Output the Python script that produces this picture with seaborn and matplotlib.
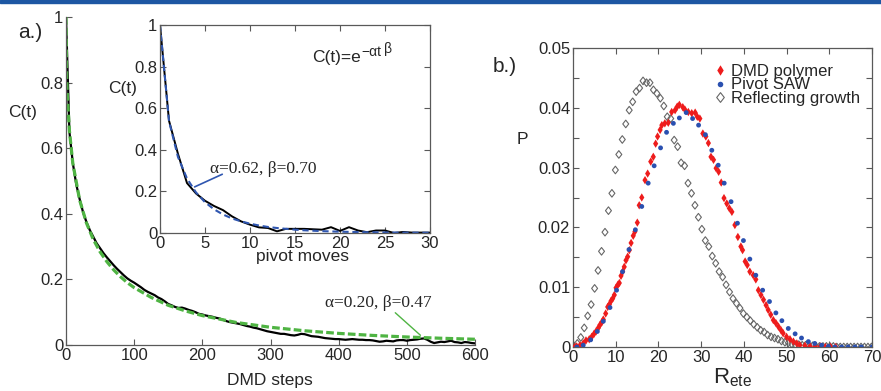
import numpy as np
import matplotlib
matplotlib.use("Agg")
import matplotlib.pyplot as plt
import seaborn as sns
from matplotlib.lines import Line2D
from matplotlib.patches import Rectangle
from matplotlib.path import Path

# ---------------- data ----------------
# panel a (main): autocorrelation vs DMD steps
main_t = np.arange(0, 601, 5)
main_black = [1.0, 0.65, 0.555, 0.49, 0.445, 0.405, 0.375, 0.35, 0.33, 0.31,
              0.295, 0.28, 0.267, 0.255, 0.243, 0.232, 0.222, 0.212, 0.203, 0.196,
              0.19, 0.183, 0.176, 0.168, 0.162, 0.157, 0.152, 0.145, 0.14, 0.133,
              0.125, 0.121, 0.116, 0.113, 0.114, 0.111, 0.107, 0.104, 0.1, 0.095,
              0.093, 0.09, 0.088, 0.086, 0.083, 0.081, 0.077, 0.073, 0.07, 0.068,
              0.066, 0.064, 0.061, 0.058, 0.056, 0.053, 0.051, 0.048, 0.045, 0.042,
              0.04, 0.038, 0.036, 0.034, 0.034, 0.032, 0.03, 0.029, 0.031, 0.034,
              0.033, 0.03, 0.027, 0.026, 0.025, 0.023, 0.021, 0.02, 0.019, 0.018,
              0.018, 0.017, 0.016, 0.017, 0.018, 0.017, 0.016, 0.016, 0.015, 0.015,
              0.014, 0.012, 0.01, 0.011, 0.013, 0.012, 0.011, 0.014, 0.015, 0.015,
              0.013, 0.015, 0.016, 0.017, 0.019, 0.02, 0.016, 0.01, 0.006, 0.008,
              0.01, 0.009, 0.011, 0.013, 0.009, 0.008, 0.006, 0.009, 0.008, 0.006,
              0.005]
fit_t = [0, 1, 2, 5, 10, 20, 30, 40, 50, 60, 70, 80, 90, 100, 125, 150, 175, 200,
         250, 300, 350, 400, 450, 500, 550, 600]
fit_main = [1.0, 0.82, 0.758, 0.653, 0.554, 0.442, 0.372, 0.322, 0.284, 0.254, 0.229,
            0.208, 0.19, 0.175, 0.145, 0.121, 0.104, 0.0896, 0.0686, 0.054, 0.0434,
            0.0354, 0.0292, 0.0244, 0.0206, 0.0175]

# panel a (inset): autocorrelation vs pivot moves
inset_t = np.arange(0, 31)
inset_c = [1.0, 0.54, 0.38, 0.24, 0.19, 0.155, 0.13, 0.11, 0.08, 0.056, 0.04,
           0.027, 0.024, 0.008, 0.02, 0.02, 0.02, 0.018, 0.016, 0.028, 0.01,
           0.028, 0.012, 0.004, 0.012, 0.012, 0.0, 0.005, 0.002, 0.002, 0.002]
inset_fit = [1.0, 0.538, 0.365, 0.262, 0.195, 0.148, 0.114, 0.089, 0.070, 0.056, 0.045,
             0.036, 0.029, 0.024, 0.020, 0.016, 0.013, 0.011, 0.009, 0.0075, 0.0064,
             0.0053, 0.0045, 0.0038, 0.0032, 0.0027, 0.0023, 0.0019, 0.0016, 0.0014, 0.0012]

# panel b: end-to-end distance distributions
dmd_x = [0.4, 0.86, 1.64, 2.4, 3.04, 3.8, 4.37, 4.92, 5.39, 5.93, 6.32, 6.71, 7.1, 7.65,
         8.12, 8.5, 8.9, 9.29, 9.68, 10.07, 10.5, 10.85, 11.24, 11.63, 12.0, 12.4, 12.8,
         13.2, 13.6, 14.1, 14.5, 15.06, 15.5, 16.1, 16.86, 17.48, 18.2, 18.8, 19.35, 19.8,
         20.4, 20.8, 21.5, 22.3, 23.1, 23.9, 24.4, 24.9, 25.7, 26.2, 27.0, 27.8, 28.6,
         29.1, 29.7, 30.4, 31.1, 31.7, 32.3, 32.9, 33.5, 34.1, 34.7, 35.35, 36.0, 36.6,
         37.2, 37.9, 38.6, 39.3, 39.7, 40.3, 40.8, 41.4, 42.2, 42.8, 43.4, 44.0, 44.6,
         45.2, 45.7, 46.3, 46.9, 47.5, 48.1, 48.7, 49.2, 50.0, 50.8, 51.6, 52.4, 53.1,
         54.3, 55.5, 56.7, 57.9, 59.1, 60.3, 61.5]
dmd_y = [0.0, 0.0001, 0.0003, 0.0006, 0.0011, 0.0013, 0.0017, 0.0022, 0.0026, 0.0032,
         0.0037, 0.0041, 0.0046, 0.0056, 0.0067, 0.0071, 0.0077, 0.0081, 0.0087, 0.0099,
         0.0104, 0.0107, 0.0119, 0.0126, 0.0134, 0.0145, 0.0151, 0.0162, 0.0174, 0.0186,
         0.0193, 0.0208, 0.0237, 0.0250, 0.0279, 0.0290, 0.0310, 0.0318, 0.0340, 0.0352,
         0.0363, 0.0371, 0.0374, 0.0375, 0.0393, 0.0396, 0.0402, 0.0405, 0.0401, 0.0397,
         0.0393, 0.0391, 0.0392, 0.0385, 0.0382, 0.0357, 0.0352, 0.0341, 0.0318, 0.0313,
         0.0299, 0.0293, 0.0275, 0.0249, 0.0240, 0.0232, 0.0226, 0.0204, 0.0184, 0.0168,
         0.0162, 0.0143, 0.0137, 0.0126, 0.0120, 0.0113, 0.0095, 0.0087, 0.0079, 0.0070,
         0.0062, 0.0054, 0.0045, 0.0040, 0.0034, 0.0028, 0.0023, 0.0017, 0.0013, 0.0009,
         0.0006, 0.0003, 0.0002, 0.0001, 0.0001, 0.0001, 0.0, 0.0, 0.0]
saw_x = [0.9, 2.4, 4.14, 5.7, 7.1, 8.66, 10.2, 11.6, 13.1, 14.6, 16.1, 17.6, 19.0, 20.5,
         21.9, 23.5, 24.9, 26.5, 28.0, 29.4, 31.0, 32.5, 34.0, 35.4, 37.0, 38.5, 39.9,
         41.4, 42.8, 44.4, 46.0, 47.5, 48.9, 50.4, 52.0, 53.5, 55.1, 56.6, 58.2, 59.8,
         61.3, 62.9, 64.4, 66.0, 67.5, 70.0]
saw_y = [0.0, 0.0003, 0.0012, 0.0026, 0.0043, 0.0066, 0.0095, 0.0126, 0.0163, 0.0196,
         0.0235, 0.0274, 0.0303, 0.0333, 0.0359, 0.0374, 0.0383, 0.0392, 0.0382, 0.0371,
         0.0355, 0.0329, 0.0304, 0.0274, 0.0243, 0.0207, 0.0178, 0.0147, 0.0120, 0.0095,
         0.0076, 0.0057, 0.0044, 0.0031, 0.0022, 0.0015, 0.0009, 0.0006, 0.0003, 0.0001,
         0.0, 0.0, 0.0, 0.0, 0.0, 0.0]
refl_x = np.round(0.2 + 0.81 * np.arange(87), 2)
refl_y = [0.0002, 0.0006, 0.0016, 0.0032, 0.0052, 0.0071, 0.0098, 0.0128, 0.0160, 0.0192,
          0.0228, 0.0257, 0.0296, 0.0322, 0.0347, 0.0373, 0.0396, 0.0410, 0.0427, 0.0433,
          0.0445, 0.0442, 0.0442, 0.0430, 0.0424, 0.0416, 0.0403, 0.0385, 0.0382, 0.0346,
          0.0335, 0.0308, 0.0303, 0.0274, 0.0257, 0.0237, 0.0217, 0.0197, 0.0178, 0.0168,
          0.0152, 0.0140, 0.0126, 0.0117, 0.0104, 0.0092, 0.0081, 0.0073, 0.0065, 0.0056,
          0.0050, 0.0044, 0.0038, 0.0033, 0.0028, 0.0025, 0.0020, 0.0017, 0.0015, 0.0013,
          0.0010, 0.0008, 0.0007, 0.0005, 0.0004, 0.0004, 0.0003, 0.0003, 0.0002, 0.0002,
          0.0001, 0.0001, 0.0001, 0.0001, 0.0001, 0.0001, 0.0, 0.0, 0.0, 0.0,
          0.0, 0.0, 0.0, 0.0, 0.0, 0.0, 0.0]

main_xticks = [0, 100, 200, 300, 400, 500, 600]
c_ticks = [0, 0.2, 0.4, 0.6, 0.8, 1.0]
c_ticklabels = ["0", "0.2", "0.4", "0.6", "0.8", "1"]
inset_xticks = [0, 5, 10, 15, 20, 25, 30]
p_xticks = [0, 10, 20, 30, 40, 50, 60, 70]
p_yticks = [0, 0.005, 0.01, 0.015, 0.02, 0.025, 0.03, 0.035, 0.04, 0.045, 0.05]
p_yticklabels = ["0", "", "0.01", "", "0.02", "", "0.03", "", "0.04", "", "0.05"]

# ---------------- style ----------------
sns.set_style("white")
plt.rcParams["font.family"] = ["Liberation Sans", "DejaVu Sans"]
plt.rcParams["mathtext.fontset"] = "custom"
plt.rcParams["mathtext.rm"] = "Liberation Sans"
plt.rcParams["mathtext.it"] = "Liberation Sans:italic"
plt.rcParams["mathtext.default"] = "regular"

GREEN = "#4fb443"
BLUE = "#2f56b0"
RED = "#ee1c1c"
DOT = "#2a50b0"
SPINE = "0.35"
W, H = 881, 391

def diamond(ratio):
    return Path([(-ratio / 2, 0), (0, 0.5), (ratio / 2, 0), (0, -0.5), (-ratio / 2, 0)],
                [Path.MOVETO, Path.LINETO, Path.LINETO, Path.LINETO, Path.CLOSEPOLY])

RED_D = diamond(0.62)
OPEN_D = diamond(0.78)

def frac(x0, y0, x1, y1):
    return [x0 / W, 1 - y1 / H, (x1 - x0) / W, (y1 - y0) / H]

def style_axes(ax, box=True):
    for s in ax.spines.values():
        s.set_color(SPINE)
        s.set_linewidth(0.9)
    if not box:
        ax.spines["top"].set_visible(False)
        ax.spines["right"].set_visible(False)
    ax.tick_params(direction="in", length=4, width=0.8, color=SPINE,
                   labelsize=12, pad=2, top=box, right=box,
                   bottom=True, left=True)

fig = plt.figure(figsize=(W / 100, H / 100), dpi=100)
fig.patches.append(Rectangle((0, 1 - 3 / H), 1, 3 / H, transform=fig.transFigure,
                             color="#1d57a3", zorder=10))

# ---------------- panel a main ----------------
ax = fig.add_axes(frac(66, 17, 475, 345))
ax.set_facecolor("white")
sns.lineplot(x=main_t, y=main_black, ax=ax, color="black", lw=1.6)
sns.lineplot(x=fit_t, y=fit_main, ax=ax, color=GREEN, lw=2.3,
             linestyle=(0, (2.4, 1.0)))
ax.set_xlim(0, 600)
ax.set_ylim(0, 1)
ax.set_xticks(main_xticks)
ax.set_yticks(c_ticks)
ax.set_yticklabels(c_ticklabels)
ax.set_xlabel("")
ax.set_ylabel("")
style_axes(ax, box=False)
ax.text(380, 0.128, "\u03b1=0.20, \u03b2=0.47", family=["Liberation Serif", "DejaVu Serif"],
        fontsize=12.5, va="center", ha="left")
ax.annotate("", xy=(523, 0.024), xytext=(480, 0.104),
            arrowprops=dict(arrowstyle="-", color=GREEN, lw=1.0))

fig.text(270 / W, 1 - 381 / H, "DMD steps", ha="center", va="center", fontsize=12.5)
fig.text(23 / W, 1 - 112 / H, "C(t)", ha="center", va="center", fontsize=12.5)
fig.text(30 / W, 1 - 32 / H, "a.)", ha="center", va="center", fontsize=15)

# ---------------- inset ----------------
axi = fig.add_axes(frac(160, 25, 430, 233))
axi.set_facecolor("white")
sns.lineplot(x=inset_t, y=inset_c, ax=axi, color="black", lw=1.4)
sns.lineplot(x=inset_t, y=inset_fit, ax=axi, color=BLUE, lw=1.5,
             linestyle=(0, (3.0, 1.8)))
axi.set_xlim(0, 30)
axi.set_ylim(0, 1)
axi.set_xticks(inset_xticks)
axi.set_yticks(c_ticks)
axi.set_yticklabels(c_ticklabels)
axi.set_xlabel("")
axi.set_ylabel("")
style_axes(axi, box=True)
t1 = axi.text(16.9, 0.82, "C(t)=e", fontsize=12.5, va="baseline", ha="left")
t2 = axi.annotate("\u2212\u03b1t", xy=(1.0, 0.0), xycoords=t1, xytext=(0.5, 6.5),
                  textcoords="offset points", fontsize=10, va="baseline", ha="left")
axi.annotate("\u03b2", xy=(1.0, 0.0), xycoords=t2, xytext=(1.5, 4.5),
             textcoords="offset points", fontsize=10, va="baseline", ha="left")
axi.text(5.6, 0.31, "\u03b1=0.62, \u03b2=0.70", family=["Liberation Serif", "DejaVu Serif"],
         fontsize=12.5, va="center", ha="left")
axi.annotate("", xy=(3.56, 0.216), xytext=(7.2, 0.288),
             arrowprops=dict(arrowstyle="-", color=BLUE, lw=1.2))
fig.text(303 / W, 1 - 257 / H, "pivot moves", ha="center", va="center", fontsize=12.5)
fig.text(123 / W, 1 - 88 / H, "C(t)", ha="center", va="center", fontsize=12.5)

# ---------------- panel b ----------------
axb = fig.add_axes(frac(573, 48, 872, 347))
axb.set_facecolor("white")
sns.scatterplot(x=refl_x, y=refl_y, ax=axb, marker=OPEN_D, s=30,
                facecolor="none", edgecolor="0.4", linewidth=0.8, zorder=2)
sns.scatterplot(x=dmd_x, y=dmd_y, ax=axb, marker=RED_D, s=36,
                color=RED, edgecolor="none", linewidth=0, zorder=3)
sns.scatterplot(x=saw_x, y=saw_y, ax=axb, marker="o", s=12,
                color=DOT, edgecolor="none", linewidth=0, zorder=4)
axb.set_xlim(0, 70)
axb.set_ylim(0, 0.05)
axb.set_xticks(p_xticks)
axb.set_yticks(p_yticks)
axb.set_yticklabels(p_yticklabels)
axb.set_xlabel("")
axb.set_ylabel("")
style_axes(axb, box=True)
handles = [
    Line2D([], [], marker=RED_D, ls="none", color=RED, markersize=7.5, markeredgewidth=0),
    Line2D([], [], marker="o", ls="none", color=DOT, markersize=4, markeredgewidth=0),
    Line2D([], [], marker=OPEN_D, ls="none", markerfacecolor="none", markeredgecolor="0.4",
           markersize=7, markeredgewidth=0.8),
]
axb.legend(handles, ["DMD polymer", "Pivot SAW", "Reflecting growth"],
           loc="upper right", frameon=False, fontsize=12, handlelength=0.6,
           handletextpad=0.4, labelspacing=-0.1, borderaxespad=0.3,
           bbox_to_anchor=(1.0, 0.985))

fig.text(505 / W, 1 - 66 / H, "b.)", ha="center", va="center", fontsize=15)
fig.text(522 / W, 1 - 140 / H, "P", ha="center", va="center", fontsize=12.5)
fig.text(733 / W, 1 - 378 / H, r"$\mathregular{R_{ete}}$", ha="center", va="center", fontsize=16)

fig.savefig("out.png", dpi=100)
